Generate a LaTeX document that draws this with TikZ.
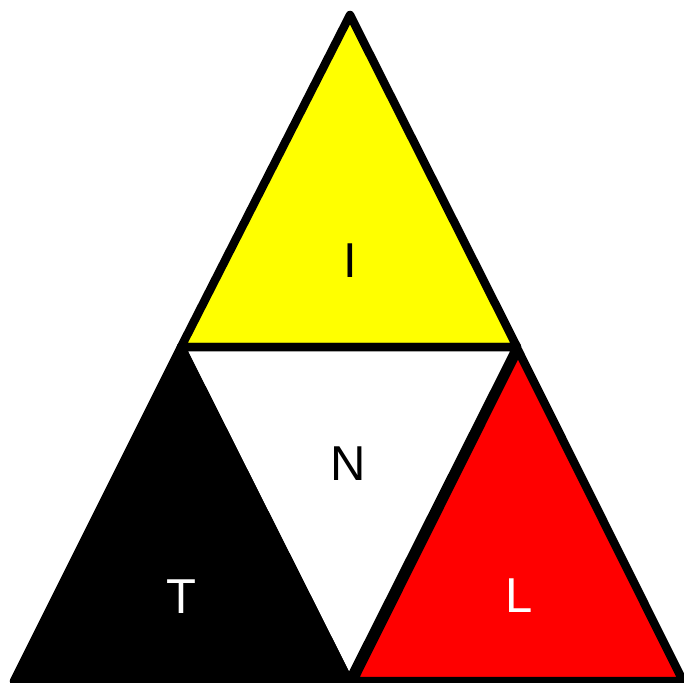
\documentclass[tikz,border=0pt]{standalone}
\usepackage{fontspec}
\setmainfont{Liberation Sans}
\definecolor{faceyellow}{RGB}{255,255,0}
\definecolor{facered}{RGB}{255,0,0}

\begin{document}
\begin{tikzpicture}[x=1pt, y=-1pt]
  \tikzset{
    tri face/.style={
      fill=#1,
      draw=black,
      line width=8.5pt,
      line join=round,
    },
    tri face/.default=white,
    tri label/.style={
      text=#1,
      inner sep=0pt,
      font=\fontsize{49}{49}\selectfont,
    },
    tri label/.default=black,
  }
  \useasboundingbox (0,0) rectangle (684,682);

  % corners of the triangles
  \coordinate (apex) at (350,15);
  \coordinate (midleft) at (181,347);
  \coordinate (midright) at (517,347);
  \coordinate (redtop) at (518,350);
  \coordinate (baseleft) at (14,681);
  \coordinate (basemid) at (349,681);
  \coordinate (redleft) at (353,681);
  \coordinate (baseright) at (683,681);

  \draw[tri face=faceyellow] (apex) -- (midleft) -- (midright) -- cycle;
  \draw[tri face] (midleft) -- (midright) -- (basemid) -- cycle;
  \draw[tri face=black] (midleft) -- (baseleft) -- (basemid) -- cycle;
  \draw[tri face=facered] (redtop) -- (redleft) -- (baseright) -- cycle;

  \node[tri label] (lbl I) at (350,261) {I};
  \node[tri label] (lbl N) at (348,464) {N};
  \node[tri label=white] (lbl T) at (181,597) {T};
  \node[tri label=white] (lbl L) at (519,596) {L};
\end{tikzpicture}
\end{document}
